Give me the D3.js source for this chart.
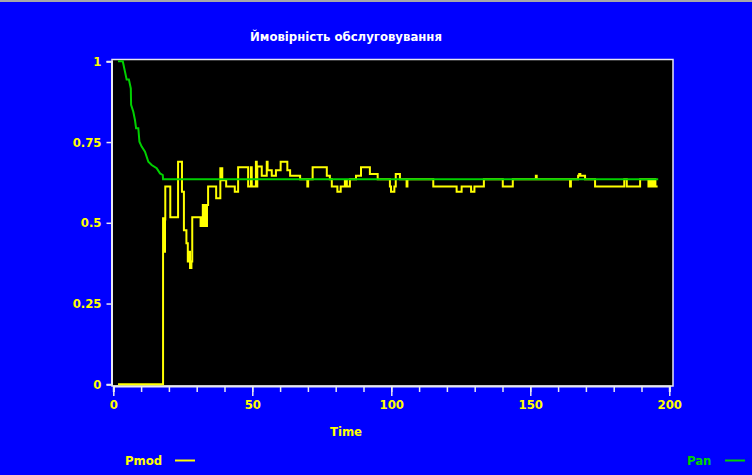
<!DOCTYPE html>
<html>
<head>
<meta charset="utf-8">
<script src="https://cdn.jsdelivr.net/npm/d3@7"></script>
<style>
  body { margin: 0; background: #0000ff; }
  svg { display: block; }
  .lbl { font-family: "Liberation Sans Narrow", "Arial Narrow", "DejaVu Sans Condensed", sans-serif; font-weight: bold; font-size: 13px; }
</style>
</head>
<body>
<svg width="752" height="475"></svg>
<script>
// Pan: analytical probability
var panTime = [1.7, 3.4, 4.2, 4.8, 5.6, 6.3, 6.4, 7.2, 7.8, 8.2, 9, 9.4, 10.2, 11.4, 12.6, 13.8, 15.6, 16.8, 17.8, 17.9, 196];
var panValue = [1, 1, 0.968, 0.944, 0.944, 0.916, 0.865, 0.844, 0.818, 0.793, 0.793, 0.751, 0.736, 0.72, 0.689, 0.679, 0.669, 0.653, 0.648, 0.635, 0.635];

// Pmod: simulated probability (step function)
var modTime = [1.7, 17.8, 17.9, 18.0, 18.2, 18.4, 18.6, 18.7, 20.5, 23.3, 24.7, 25.4, 26.3, 26.8, 27.3, 27.6, 28.1, 28.4,
  31.2, 31.4, 31.7, 32.0, 32.2, 32.6, 33.0, 33.4, 33.7, 34.1, 37, 38.5, 39.2, 40.6, 43.7, 44.9, 48.5, 49.5, 49.8,
  51.3, 51.6, 51.8, 53.4, 55.2, 55.5, 57, 58.5, 60.2, 62.6, 63.6, 67.2, 69.8, 70.1, 71.7, 76.8, 77.9, 78.6, 80.6,
  81.8, 83.3, 84, 85.1, 87.3, 89.1, 92.3, 95.1, 99.5, 99.9, 101.1, 101.6, 103.1, 105.5, 105.8, 115.1, 123.5, 125.3,
  128.7, 129.9, 133.3, 140.1, 143.7, 152, 152.3, 164.3, 164.6, 167.2, 167.6, 168, 169.7, 173.3, 183.8, 184.7, 189.5,
  192.5, 193.2, 193.8, 194.5, 195, 195.8];
var modValue = [0, 0, 0.514, 0.42, 0.514, 0.41, 0.51, 0.612, 0.517, 0.689, 0.596, 0.477, 0.437, 0.38, 0.41, 0.36, 0.38, 0.517,
  0.517, 0.49, 0.517, 0.49, 0.555, 0.49, 0.555, 0.49, 0.555, 0.612, 0.576, 0.669, 0.632, 0.612, 0.596, 0.672, 0.612, 0.672, 0.612,
  0.689, 0.612, 0.674, 0.646, 0.689, 0.663, 0.646, 0.663, 0.689, 0.663, 0.646, 0.635, 0.612, 0.635, 0.672, 0.646, 0.635, 0.612, 0.596,
  0.612, 0.63, 0.612, 0.635, 0.646, 0.672, 0.651, 0.635, 0.612, 0.596, 0.612, 0.651, 0.635, 0.612, 0.635, 0.612, 0.596, 0.612,
  0.596, 0.612, 0.635, 0.612, 0.635, 0.646, 0.635, 0.612, 0.635, 0.646, 0.651, 0.646, 0.635, 0.612, 0.635, 0.612, 0.635,
  0.612, 0.635, 0.612, 0.635, 0.612, 0.612];

var yTicks = [0, 0.25, 0.5, 0.75, 1];
var yTickLabels = ["0", "0.25", "0.5", "0.75", "1"];
var xMinorTicks = d3.range(0, 201, 10);
var xMajorTicks = [0, 50, 100, 150, 200];

var svg = d3.select("svg");
var yellow = "#ffff00", green = "#00d000", frame = "#e8e8f0";

var x = d3.scaleLinear().domain([0, 200]).range([113.3, 669.3]),
  y = d3.scaleLinear().domain([0, 1]).range([384.3, 61.3]);

svg.append("rect").attr("width", 752).attr("height", 475).attr("fill", "#0000ff");
svg.append("rect").attr("width", 752).attr("height", 2).attr("fill", "#a8a8a8");

// plot area
svg.append("rect")
  .attr("x", 112).attr("y", 59.5)
  .attr("width", 561).attr("height", 326.5)
  .attr("fill", "#000")
  .attr("stroke", frame)
  .attr("stroke-width", 1.5);

svg.append("text")
  .attr("class", "lbl")
  .attr("x", 346).attr("y", 41)
  .attr("text-anchor", "middle")
  .attr("fill", "#fff")
  .text("Ймовірність обслуговування");

// y axis
var gy = svg.append("g")
  .attr("transform", "translate(111.5,0)")
  .call(d3.axisLeft(y).tickValues(yTicks).tickSize(5).tickPadding(5)
    .tickFormat(function (d, i) { return yTickLabels[i]; }));
gy.select(".domain").attr("stroke", frame).attr("stroke-width", 2);
gy.selectAll(".tick line").attr("stroke", frame).attr("stroke-width", 1.5);
gy.selectAll(".tick text").attr("class", "lbl").attr("fill", yellow).attr("font-size", null).attr("font-family", null);

// x axis
var gxMinor = svg.append("g")
  .attr("transform", "translate(0,386)")
  .call(d3.axisBottom(x).tickValues(xMinorTicks).tickSize(6).tickFormat(""));
gxMinor.select(".domain").attr("stroke", frame).attr("stroke-width", 2);
gxMinor.selectAll(".tick line").attr("stroke", frame).attr("stroke-width", 1.5);

var gx = svg.append("g")
  .attr("transform", "translate(0,386)")
  .call(d3.axisBottom(x).tickValues(xMajorTicks).tickSize(10).tickPadding(4));
gx.select(".domain").remove();
gx.selectAll(".tick line").attr("stroke", frame).attr("stroke-width", 1.5);
gx.selectAll(".tick text").attr("class", "lbl").attr("fill", yellow).attr("font-size", null).attr("font-family", null);

svg.append("text")
  .attr("class", "lbl")
  .attr("x", 346).attr("y", 436)
  .attr("text-anchor", "middle")
  .attr("fill", yellow)
  .text("Time");

// series
var modLine = d3.line()
  .x(function (d) { return x(d[0]); })
  .y(function (d) { return y(d[1]); })
  .curve(d3.curveStepAfter);
var panLine = d3.line()
  .x(function (d) { return x(d[0]); })
  .y(function (d) { return y(d[1]); });

svg.append("path")
  .datum(d3.zip(modTime, modValue))
  .attr("fill", "none")
  .attr("stroke", yellow)
  .attr("stroke-width", 2)
  .attr("d", modLine);

svg.append("path")
  .datum(d3.zip(panTime, panValue))
  .attr("fill", "none")
  .attr("stroke", green)
  .attr("stroke-width", 2)
  .attr("d", panLine);

// legend
svg.append("text").attr("class", "lbl").attr("x", 125).attr("y", 465).attr("fill", yellow).text("Pmod");
svg.append("line").attr("x1", 175).attr("x2", 195).attr("y1", 460.5).attr("y2", 460.5)
  .attr("stroke", yellow).attr("stroke-width", 2);
svg.append("text").attr("class", "lbl").attr("x", 687).attr("y", 465).attr("fill", green).text("Pan");
svg.append("line").attr("x1", 725).attr("x2", 745).attr("y1", 460.5).attr("y2", 460.5)
  .attr("stroke", green).attr("stroke-width", 2);
</script>
</body>
</html>
